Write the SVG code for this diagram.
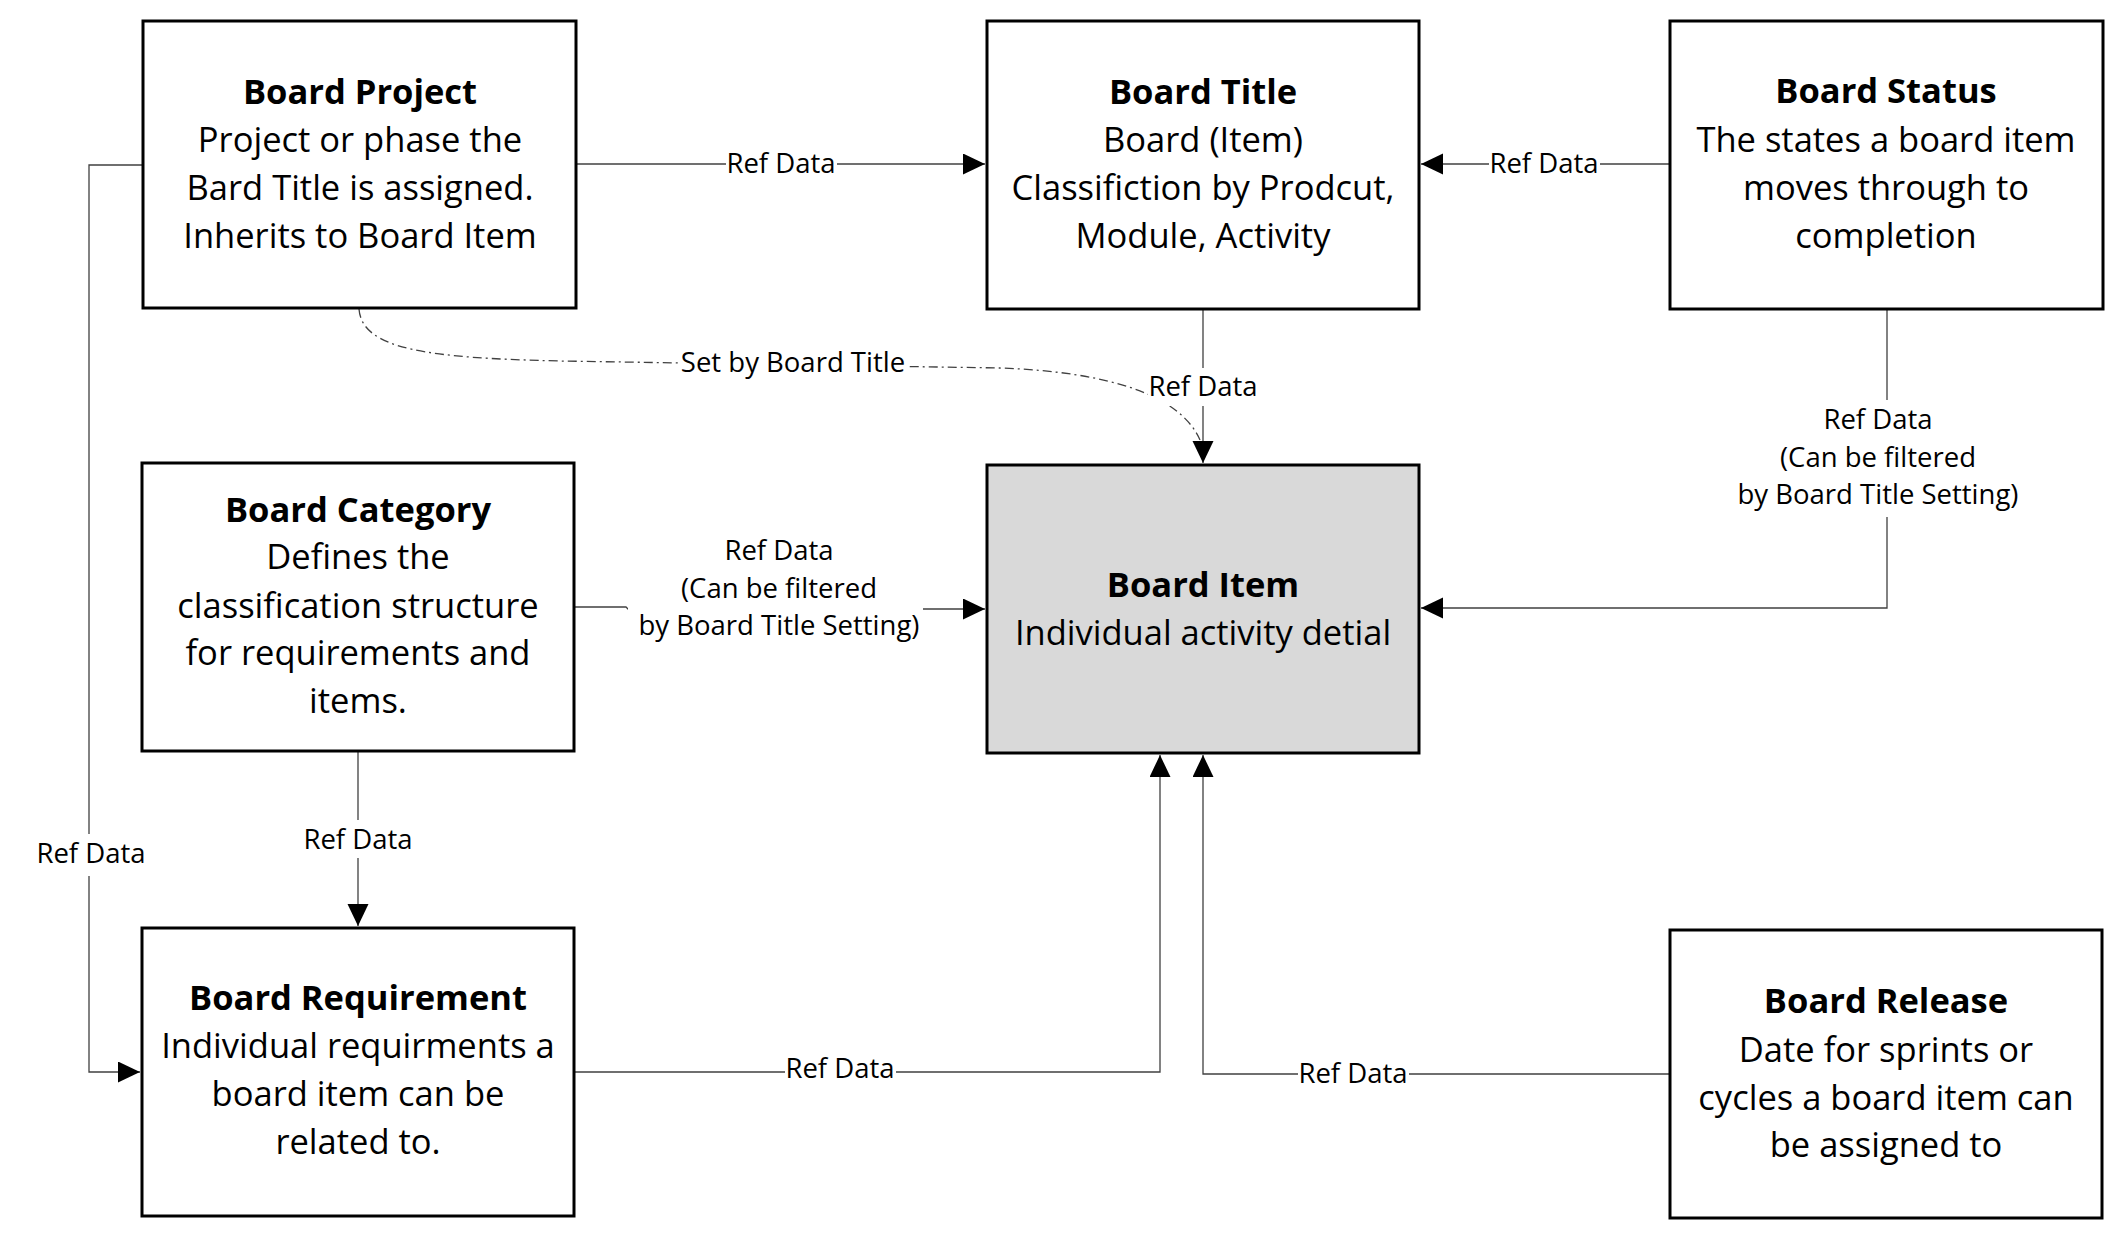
<svg xmlns="http://www.w3.org/2000/svg" width="2127" height="1240" viewBox="0 0 2127 1240">
<style>
.box{fill:#ffffff;stroke:#000000;stroke-width:3}
.hl{fill:#d9d9d9}
.t{font-family:"Open Sans","Liberation Sans",sans-serif;font-size:34.5px;fill:#000;text-anchor:middle}
.b{font-weight:700}
.conn{fill:none;stroke:#404040;stroke-width:1.3}
.dash{fill:none;stroke:#404040;stroke-width:1.3;stroke-dasharray:9 4 2 4}
.lbl{font-family:"Open Sans","Liberation Sans",sans-serif;font-size:27.5px;fill:#000;text-anchor:middle}
.bg{fill:#ffffff}
</style>
<defs>
<marker id="arr" markerUnits="userSpaceOnUse" markerWidth="23" markerHeight="22" refX="22" refY="10.5" orient="auto">
<path d="M0,0 L22,10.5 L0,21 z" fill="#000"/>
</marker>
</defs>
<rect width="2127" height="1240" fill="#ffffff"/>

<g id="connectors">
<path class="conn" d="M576,164 L985,164" marker-end="url(#arr)"/>
<path class="conn" d="M1670,164 L1421,164" marker-end="url(#arr)"/>
<path class="conn" d="M1203,309 L1203,463" marker-end="url(#arr)"/>
<path class="dash" d="M359,309 C362,350 430,358 560,361 L1000,368 C1110,372 1180,395 1200,440"/>
<path class="conn" d="M574,607 L626,607 L628,609 L985,609" marker-end="url(#arr)"/>
<path class="conn" d="M1887,309 L1887,608 L1421,608" marker-end="url(#arr)"/>
<path class="conn" d="M358,751 L358,926" marker-end="url(#arr)"/>
<path class="conn" d="M143,165 L89,165 L89,1072 L140,1072" marker-end="url(#arr)"/>
<path class="conn" d="M574,1072 L1160,1072 L1160,755" marker-end="url(#arr)"/>
<path class="conn" d="M1670,1074 L1203,1074 L1203,755" marker-end="url(#arr)"/>

<rect class="bg" x="726" y="150" width="111" height="30"/>
<text class="lbl" x="781" y="173">Ref Data</text>
<rect class="bg" x="1489" y="150" width="111" height="30"/>
<text class="lbl" x="1544" y="173">Ref Data</text>
<rect class="bg" x="1148" y="368" width="111" height="38"/>
<text class="lbl" x="1203" y="396">Ref Data</text>
<rect class="bg" x="680" y="352" width="227" height="28"/>
<text class="lbl" x="793" y="372">Set by Board Title</text>
<rect class="bg" x="628" y="536" width="295" height="108"/>
<text class="lbl" x="779" y="560">Ref Data</text>
<text class="lbl" x="779" y="598">(Can be filtered</text>
<text class="lbl" x="779" y="635">by Board Title Setting)</text>
<rect class="bg" x="1735" y="400" width="290" height="117"/>
<text class="lbl" x="1878" y="429">Ref Data</text>
<text class="lbl" x="1878" y="467">(Can be filtered</text>
<text class="lbl" x="1878" y="504">by Board Title Setting)</text>
<rect class="bg" x="303" y="820" width="111" height="38"/>
<text class="lbl" x="358" y="849">Ref Data</text>
<rect class="bg" x="36" y="834" width="111" height="42"/>
<text class="lbl" x="91" y="863">Ref Data</text>
<rect class="bg" x="785" y="1058" width="111" height="28"/>
<text class="lbl" x="840" y="1078">Ref Data</text>
<rect class="bg" x="1298" y="1062" width="111" height="28"/>
<text class="lbl" x="1353" y="1083">Ref Data</text>
</g>

<g id="board-project">
<rect class="box" x="143" y="21" width="433" height="287"/>
<text class="t b" x="360" y="104">Board Project</text>
<text class="t" x="360" y="152">Project or phase the</text>
<text class="t" x="360" y="200">Bard Title is assigned.</text>
<text class="t" x="360" y="248">Inherits to Board Item</text>
</g>

<g id="board-title">
<rect class="box" x="987" y="21" width="432" height="288"/>
<text class="t b" x="1203" y="104">Board Title</text>
<text class="t" x="1203" y="152">Board (Item)</text>
<text class="t" x="1203" y="200">Classifiction by Prodcut,</text>
<text class="t" x="1203" y="248">Module, Activity</text>
</g>

<g id="board-status">
<rect class="box" x="1670" y="21" width="433" height="288"/>
<text class="t b" x="1886" y="103">Board Status</text>
<text class="t" x="1886" y="152">The states a board item</text>
<text class="t" x="1886" y="200">moves through to</text>
<text class="t" x="1886" y="248">completion</text>
</g>

<g id="board-category">
<rect class="box" x="142" y="463" width="432" height="288"/>
<text class="t b" x="358" y="522">Board Category</text>
<text class="t" x="358" y="569">Defines the</text>
<text class="t" x="358" y="618">classification structure</text>
<text class="t" x="358" y="665">for requirements and</text>
<text class="t" x="358" y="713">items.</text>
</g>

<g id="board-item">
<rect class="box hl" x="987" y="465" width="432" height="288"/>
<text class="t b" x="1203" y="597">Board Item</text>
<text class="t" x="1203" y="645">Individual activity detial</text>
</g>

<g id="board-requirement">
<rect class="box" x="142" y="928" width="432" height="288"/>
<text class="t b" x="358" y="1010">Board Requirement</text>
<text class="t" x="358" y="1058">Individual requirments a</text>
<text class="t" x="358" y="1106">board item can be</text>
<text class="t" x="358" y="1154">related to.</text>
</g>

<g id="board-release">
<rect class="box" x="1670" y="930" width="432" height="288"/>
<text class="t b" x="1886" y="1013">Board Release</text>
<text class="t" x="1886" y="1062">Date for sprints or</text>
<text class="t" x="1886" y="1110">cycles a board item can</text>
<text class="t" x="1886" y="1157">be assigned to</text>
</g>
</svg>
